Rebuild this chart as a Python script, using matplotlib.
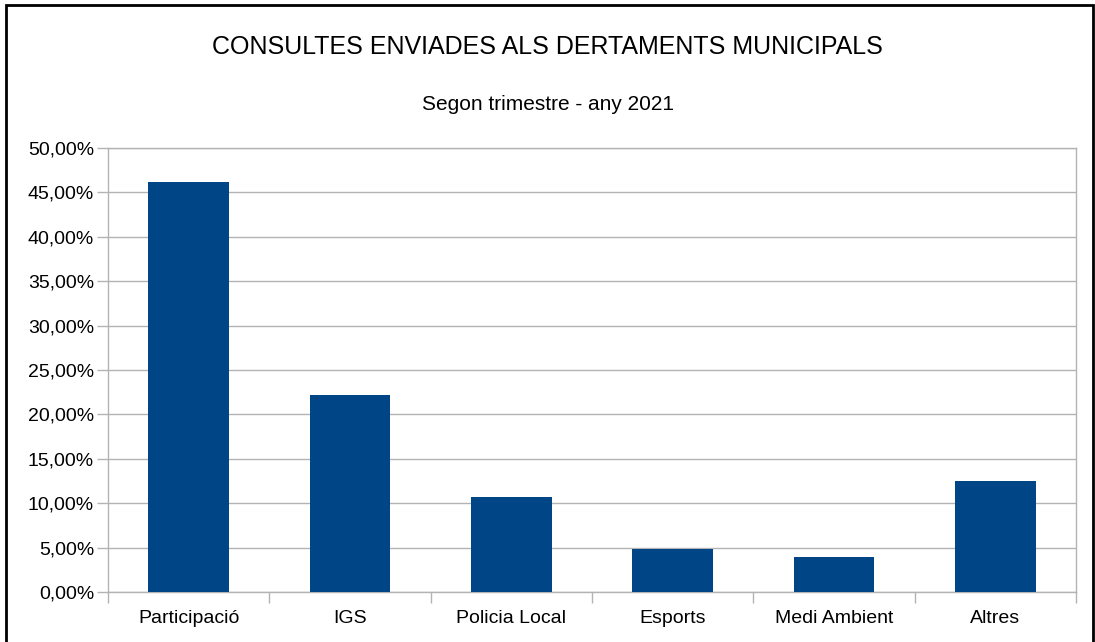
import matplotlib.pyplot as plt
from matplotlib.patches import Rectangle
from matplotlib.ticker import FuncFormatter
import numpy as np

plt.rcParams['font.family'] = ['Liberation Sans', 'DejaVu Sans']

categories = ['Participació', 'IGS', 'Policia Local', 'Esports', 'Medi Ambient', 'Altres']
values = [46.2, 22.2, 10.65, 4.85, 3.95, 12.5]
yticks = [0, 5, 10, 15, 20, 25, 30, 35, 40, 45, 50]

BAR_COLOR = '#004586'
GRID_COLOR = '#b3b3b3'

fig = plt.figure(figsize=(10.95, 6.42), dpi=100)
ax = fig.add_axes([108 / 1095, 1 - 592 / 642, (1076 - 108) / 1095, (592 - 148) / 642])

x = np.arange(len(categories))
ax.bar(x, values, width=0.5, color=BAR_COLOR, zorder=3)

ax.set_xlim(-0.5, len(categories) - 0.5)
ax.set_ylim(0, 50)
ax.set_yticks(yticks)
ax.yaxis.set_major_formatter(FuncFormatter(lambda v, p: f"{v:.2f}".replace('.', ',') + '%'))
ax.grid(axis='y', color=GRID_COLOR, linewidth=1, zorder=0)

ax.set_xticks(x)
ax.set_xticklabels(categories)
ax.set_xticks(np.arange(len(categories) + 1) - 0.5, minor=True)
ax.tick_params(axis='x', which='major', length=0, pad=13, labelsize=14)
ax.tick_params(axis='x', which='minor', length=8, color=GRID_COLOR, width=1)
ax.tick_params(axis='y', length=8, color=GRID_COLOR, width=1, labelsize=14, pad=2)

for s in ax.spines.values():
    s.set_color(GRID_COLOR)
    s.set_linewidth(1)

fig.text(0.5, 1 - 47 / 642, 'CONSULTES ENVIADES ALS DERTAMENTS MUNICIPALS',
         ha='center', va='center', fontsize=18)
fig.text(0.5, 1 - 104 / 642, 'Segon trimestre - any 2021',
         ha='center', va='center', fontsize=15)

# outer frame (bottom edge cut off in the original)
fig.patches.append(Rectangle((5.5 / 1095, -0.1), (1093 - 5.5) / 1095, 1.1 - 4.5 / 642,
                             transform=fig.transFigure, fill=False,
                             edgecolor='black', linewidth=2))

plt.savefig('out.png', dpi=100)
